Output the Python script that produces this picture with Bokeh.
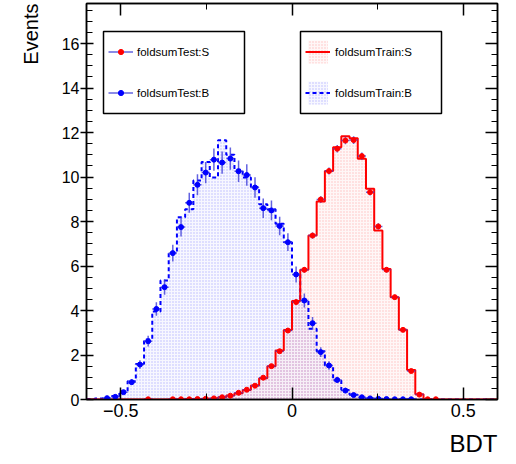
from bokeh.plotting import figure
from bokeh.models import (Range1d, LinearAxis, FixedTicker, Legend, LegendItem, Title, BoxAnnotation)
from bokeh.embed import file_html
from bokeh.resources import INLINE

nan = float("nan")

# binning of the BDT axis (50 bins from -0.6 to 0.6)
x_lo, x_hi, n_bins = -0.6, 0.6, 50
edges = [x_lo + i * (x_hi - x_lo) / n_bins for i in range(n_bins + 1)]
centers = [(edges[i] + edges[i + 1]) / 2 for i in range(n_bins)]

# foldsumTrain:S  (signal, training)
sig_train = [0, 0, 0, 0, 0, 0, 0, 0.01, 0, 0,
             0.01, 0.01, 0.02, 0.02, 0.03, 0.05, 0.10, 0.18, 0.28, 0.43,
             0.63, 0.95, 1.50, 2.20, 3.12, 4.43, 5.83, 7.37, 8.90, 10.27,
             11.34, 11.83, 11.74, 10.82, 9.47, 7.60, 5.87, 4.60, 3.13, 1.33,
             0.24, 0.02, 0, 0, 0, 0, 0, 0, 0, 0]
# foldsumTrain:B  (background, training)
bkg_train = [0.02, 0.04, 0.07, 0.16, 0.35, 0.82, 1.60, 2.70, 3.96, 5.35,
             6.62, 8.19, 8.55, 9.84, 10.67, 9.98, 11.65, 11.00, 10.33, 9.98,
             9.55, 8.78, 8.55, 7.90, 7.07, 5.67, 4.48, 3.18, 2.17, 1.53,
             0.85, 0.43, 0.21, 0.10, 0.05, 0.03, 0.02, 0.01, 0.01, 0.01,
             0, 0, 0, 0, 0, 0, 0, 0, 0, 0]
# foldsumTest:S  (signal, test) and its errors
sig_test = [nan, nan, nan, nan, nan, nan, nan, 0.01, nan, nan,
            0.01, 0.01, 0.01, 0.02, 0.03, 0.05, 0.10, 0.17, 0.30, 0.44,
            0.62, 0.98, 1.50, 2.17, 3.10, 4.38, 5.83, 7.37, 8.99, 10.27,
            11.27, 11.64, 11.66, 10.94, 9.32, 7.78, 5.83, 4.60, 3.13, 1.28,
            0.22, 0.01, 0.01, nan, nan, nan, nan, nan, nan, nan]
sig_test_err = [0, 0, 0, 0, 0, 0, 0, 0.01, 0, 0,
                0.01, 0.01, 0.01, 0.01, 0.01, 0.02, 0.02, 0.03, 0.04, 0.04,
                0.05, 0.06, 0.07, 0.08, 0.10, 0.11, 0.13, 0.14, 0.15, 0.16,
                0.17, 0.17, 0.17, 0.16, 0.15, 0.14, 0.12, 0.11, 0.09, 0.06,
                0.03, 0.01, 0.01, 0, 0, 0, 0, 0, 0, 0]
# foldsumTest:B  (background, test) and its errors
bkg_test = [nan, nan, 0.06, 0.12, 0.33, 0.78, 1.57, 2.62, 4.07, 5.05,
            6.58, 7.75, 8.84, 9.65, 10.20, 10.78, 10.65, 10.83, 10.26, 10.09,
            9.53, 8.60, 8.50, 7.80, 7.07, 5.62, 4.45, 3.43, 2.13, 1.53,
            0.88, 0.40, 0.20, 0.10, 0.05, 0.03, 0.02, 0.01, 0.01, 0.01,
            nan, nan, nan, nan, nan, nan, nan, nan, nan, nan]
bkg_test_err = [0, 0, 0.03, 0.05, 0.09, 0.13, 0.19, 0.24, 0.30, 0.34,
                0.38, 0.42, 0.45, 0.47, 0.48, 0.50, 0.50, 0.50, 0.48, 0.48,
                0.46, 0.44, 0.44, 0.42, 0.40, 0.36, 0.32, 0.28, 0.22, 0.19,
                0.14, 0.10, 0.07, 0.05, 0.03, 0.03, 0.02, 0.01, 0.01, 0.01,
                0, 0, 0, 0, 0, 0, 0, 0, 0, 0]

x_major = [-0.5, 0, 0.5]
x_minor = [-0.25, 0.25]
x_labels = {-0.5: "\u22120.5", 0: "0", 0.5: "0.5"}
y_major = [0, 2, 4, 6, 8, 10, 12, 14, 16]
y_minor = [i * 0.5 for i in range(36)]

FONT = "Liberation Sans"
RED = "#ff0000"
BLUE = "#0000ff"
ERRBLUE = "#3c3cd8"

p = figure(width=516, height=464, x_range=Range1d(x_lo, x_hi), y_range=Range1d(0, 17.8),
           output_backend="svg", toolbar_location=None,
           min_border_left=86, min_border_right=19, min_border_top=3, min_border_bottom=65)
p.xgrid.visible = False
p.ygrid.visible = False
p.outline_line_color = "black"
p.outline_line_width = 1.5
p.background_fill_color = "white"
p.border_fill_color = "white"

xt = FixedTicker(ticks=x_major, minor_ticks=x_minor)
yt = FixedTicker(ticks=y_major, minor_ticks=y_minor)

xa = p.xaxis[0]
xa.ticker = xt
xa.major_label_overrides = x_labels
xa.major_tick_in = 12
xa.major_tick_out = 0
xa.minor_tick_in = 6
xa.minor_tick_out = 0
xa.major_label_standoff = 4
xa.major_label_text_font = FONT
xa.major_label_text_font_size = "18px"
xa.major_label_text_color = "black"
xa.axis_line_width = 1.5
xa.major_tick_line_width = 1.5

ya = p.yaxis[0]
ya.ticker = yt
ya.major_tick_in = 7
ya.major_tick_out = 6
ya.minor_tick_in = 6
ya.minor_tick_out = 0
ya.major_label_standoff = 1
ya.major_label_text_font = FONT
ya.major_label_text_font_size = "16px"
ya.major_label_text_color = "black"
ya.axis_line_width = 1.5
ya.major_tick_line_width = 1.5

ra = LinearAxis(ticker=yt, major_tick_in=12, major_tick_out=0, minor_tick_in=6, minor_tick_out=0,
                major_label_text_font_size="1px", major_label_text_color=None,
                major_label_standoff=0, axis_line_width=1.5, major_tick_line_width=1.5)
ta = LinearAxis(ticker=xt, major_tick_in=12, major_tick_out=0, minor_tick_in=6, minor_tick_out=0,
                major_label_text_font_size="1px", major_label_text_color=None,
                major_label_standoff=0, axis_line_width=1.5, major_tick_line_width=1.5)
p.add_layout(ra, "right")
p.add_layout(ta, "above")

p.add_layout(Title(text="BDT", align="right", text_font=FONT, text_font_size="24px",
                   text_font_style="normal", text_color="black", standoff=16), "below")
p.add_layout(Title(text="Events", align="right", text_font=FONT, text_font_size="20px",
                   text_font_style="normal", text_color="black", standoff=34), "left")

sig_ext = sig_train + [sig_train[-1]]
bkg_ext = bkg_train + [bkg_train[-1]]

bkg_fill = p.varea_step(x=edges, y1=[0] * len(edges), y2=bkg_ext, step_mode="after",
                        fill_color=BLUE, fill_alpha=0.03,
                        hatch_pattern="dot", hatch_color=BLUE, hatch_alpha=0.25,
                        hatch_scale=3, hatch_weight=1)
sig_fill = p.varea_step(x=edges, y1=[0] * len(edges), y2=sig_ext, step_mode="after",
                        fill_color=RED, fill_alpha=0.03,
                        hatch_pattern="dot", hatch_color=RED, hatch_alpha=0.22,
                        hatch_scale=3, hatch_weight=1)
bkg_line = p.step(x=edges, y=bkg_ext, mode="after", line_color=BLUE, line_width=2, line_dash="4 3")
sig_line = p.step(x=edges, y=sig_ext, mode="after", line_color=RED, line_width=2)

lo_e = edges[:-1]
hi_e = edges[1:]

sig_lo = [v - e for v, e in zip(sig_test, sig_test_err)]
sig_hi = [v + e for v, e in zip(sig_test, sig_test_err)]
bkg_lo = [v - e for v, e in zip(bkg_test, bkg_test_err)]
bkg_hi = [v + e for v, e in zip(bkg_test, bkg_test_err)]

p.segment(x0=centers, y0=sig_lo, x1=centers, y1=sig_hi, line_color=ERRBLUE, line_width=1.5, line_alpha=0.8)
sig_h = p.segment(x0=lo_e, y0=sig_test, x1=hi_e, y1=sig_test, line_color=ERRBLUE, line_width=1.5, line_alpha=0.8)
sig_pts = p.scatter(x=centers, y=sig_test, marker="circle", size=5, fill_color=RED, line_color=RED)

p.segment(x0=centers, y0=bkg_lo, x1=centers, y1=bkg_hi, line_color=ERRBLUE, line_width=1.5, line_alpha=0.8)
bkg_h = p.segment(x0=lo_e, y0=bkg_test, x1=hi_e, y1=bkg_test, line_color=ERRBLUE, line_width=1.5, line_alpha=0.8)
bkg_pts = p.scatter(x=centers, y=bkg_test, marker="circle", size=5, fill_color=BLUE, line_color=BLUE)

# legend frames (white boxes with black border)
for left in (17, 214):
    p.add_layout(BoxAnnotation(left=left, right=left + 141, top=368, bottom=286,
                               left_units="screen", right_units="screen",
                               top_units="screen", bottom_units="screen",
                               fill_color="white", fill_alpha=1.0,
                               line_color="black", line_width=1.5, line_alpha=1.0))

leg_test = Legend(items=[LegendItem(label="foldsumTest:S", renderers=[sig_h, sig_pts]),
                         LegendItem(label="foldsumTest:B", renderers=[bkg_h, bkg_pts])],
                  location=(22, 300), margin=0, padding=0, spacing=28,
                  glyph_width=25, glyph_height=13, label_height=13, label_standoff=4,
                  label_text_font=FONT, label_text_font_size="11.5px", label_text_color="black",
                  border_line_color=None, background_fill_alpha=0)
leg_train = Legend(items=[LegendItem(label="foldsumTrain:S", renderers=[sig_fill, sig_line]),
                          LegendItem(label="foldsumTrain:B", renderers=[bkg_fill, bkg_line])],
                   location=(219, 292), margin=0, padding=0, spacing=12,
                   glyph_width=25, glyph_height=29, label_height=29, label_standoff=5,
                   label_text_font=FONT, label_text_font_size="11.5px", label_text_color="black",
                   border_line_color=None, background_fill_alpha=0)
p.add_layout(leg_test, "center")
p.add_layout(leg_train, "center")

open("out.html", "w").write(file_html(p, INLINE))
